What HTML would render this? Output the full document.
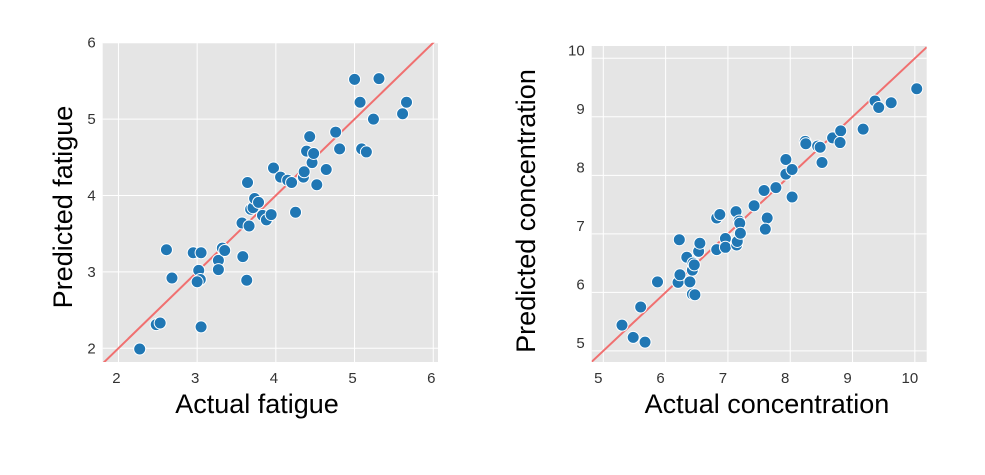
<!DOCTYPE html>
<html><head><meta charset="utf-8"><style>
body{margin:0;background:#fff;}
svg{display:block;font-family:"Liberation Sans",Arial,sans-serif;}
.tick{font-size:15px;fill:#333;}
.lab{font-size:27px;fill:#000;}
</style></head><body>
<svg id="c" width="985" height="475"></svg>
<script>
const fatigueActual=[2.27,2.48,2.53,2.61,2.68,2.95,3.05,3.02,3.04,3.00,3.05,3.27,3.27,3.32,3.35,3.58,3.63,3.57,3.66,3.64,3.68,3.71,3.73,3.78,3.83,3.88,3.94,3.97,4.06,4.15,4.20,4.25,4.35,4.36,4.39,4.43,4.46,4.48,4.52,4.64,4.76,4.81,5.00,5.07,5.09,5.15,5.24,5.31,5.61,5.66];
const fatiguePred=[1.99,2.31,2.33,3.29,2.92,3.25,3.25,3.02,2.90,2.87,2.28,3.15,3.03,3.31,3.28,3.20,2.89,3.64,3.60,4.17,3.82,3.84,3.96,3.91,3.74,3.68,3.75,4.36,4.24,4.20,4.17,3.78,4.24,4.31,4.58,4.77,4.43,4.55,4.14,4.34,4.83,4.61,5.52,5.22,4.61,4.57,5.00,5.53,5.07,5.22];
const concActual=[5.30,5.48,5.67,5.60,5.87,6.20,6.23,6.22,6.34,6.39,6.43,6.47,6.43,6.44,6.46,6.53,6.55,6.82,6.87,6.82,6.96,6.96,7.13,7.14,7.15,7.18,7.19,7.20,7.42,7.58,7.63,7.60,7.77,7.93,7.93,8.03,8.03,8.24,8.25,8.44,8.48,8.51,8.68,8.81,8.80,9.17,9.36,9.42,9.62,10.03];
const concPred=[5.44,5.23,5.15,5.75,6.18,6.17,6.30,6.90,6.60,6.18,5.97,5.96,6.38,6.50,6.47,6.70,6.84,7.27,7.33,6.73,6.92,6.77,7.38,6.81,6.87,7.22,7.18,7.01,7.48,7.74,7.27,7.08,7.79,8.27,8.02,8.10,7.63,8.58,8.54,8.50,8.48,8.22,8.64,8.76,8.56,8.79,9.27,9.16,9.24,9.48];
const fatigueTicks=[2,3,4,5,6];
const concTicks=[5,6,7,8,9,10];

const svg=document.getElementById('c');
const NS='http://www.w3.org/2000/svg';
function mk(tag,attrs,parent){const e=document.createElementNS(NS,tag);for(const k in attrs)e.setAttribute(k,attrs[k]);(parent||svg).appendChild(e);return e;}

function panel(cfg){
  const g=mk('g',{});
  
  
  const sx=v=>cfg.x0+(v-cfg.xmin)/(cfg.xmax-cfg.xmin)*(cfg.x1-cfg.x0);
  const sy=v=>cfg.y1-(v-cfg.ymin)/(cfg.ymax-cfg.ymin)*(cfg.y1-cfg.y0);
  const bg=mk('rect',{x:cfg.x0,y:cfg.y0,width:cfg.x1-cfg.x0,height:cfg.y1-cfg.y0,fill:'#e5e5e5'},g);
  
  
  cfg.ticks.forEach(t=>{
    if(t>=cfg.xmin&&t<=cfg.xmax){
      const l=mk('line',{x1:sx(t),x2:sx(t),y1:cfg.y0,y2:cfg.y1,stroke:'#fff','stroke-width':1},g);
      
      
      const tx=mk('text',{x:sx(t)+cfg.xlo,y:cfg.y1+21,'text-anchor':'middle',class:'tick'},g);
      tx.textContent=t;
      
      
    }
    if(t>=cfg.ymin&&t<=cfg.ymax+0.01){
      const l=mk('line',{x1:cfg.x0,x2:cfg.x1,y1:sy(t),y2:sy(t),stroke:'#fff','stroke-width':1},g);
      
      
      const ty=mk('text',{x:cfg.x0-7,y:sy(t)+5+cfg.ylo,'text-anchor':'end',class:'tick'},g);
      ty.textContent=t;
      
      
    }
  });
  const ln=mk('line',{x1:sx(cfg.xmin),y1:sy(cfg.xmin),x2:sx(cfg.xmax),y2:sy(cfg.xmax),stroke:'#f07070','stroke-width':2},g);
  
  
  const clip=mk('clipPath',{id:cfg.name+'-clip'},g);
  mk('rect',{x:cfg.x0,y:cfg.y0,width:cfg.x1-cfg.x0,height:cfg.y1-cfg.y0},clip);
  ln.setAttribute('clip-path','url(#'+cfg.name+'-clip)');
  cfg.xs.forEach((v,i)=>{
    const c=mk('circle',{cx:sx(v),cy:sy(cfg.ys[i]),r:6,fill:'#2077b4',stroke:'#fff','stroke-width':1},g);
    
    
  });
  const xl=mk('text',{x:cfg.xlx,y:413,'text-anchor':'middle',class:'lab'},g);
  xl.textContent=cfg.xlabel;
  
  
  const yl=mk('text',{x:0,y:0,'text-anchor':'middle',class:'lab',transform:'translate('+cfg.ylx+','+cfg.yly+') rotate(-90)'},g);
  yl.textContent=cfg.ylabel;
  
  
}
panel({name:'fatigue-panel',x0:102.7,x1:438,y0:42.7,y1:362,xmin:1.80,xmax:6.06,ymin:1.82,ymax:6.0,
  ticks:fatigueTicks,xs:fatigueActual,ys:fatiguePred,xlo:-2,ylo:0,xlabel:'Actual fatigue',ylabel:'Predicted fatigue',xlx:257,ylx:72,yly:207});
panel({name:'concentration-panel',x0:591.7,x1:926.7,y0:46,y1:362,xmin:4.814,xmax:10.19,ymin:4.81,ymax:10.21,
  ticks:concTicks,xs:concActual,ys:concPred,xlo:-5,ylo:-8,xlabel:'Actual concentration',ylabel:'Predicted concentration',xlx:767,ylx:535,yly:211});
</script>
</body></html>
